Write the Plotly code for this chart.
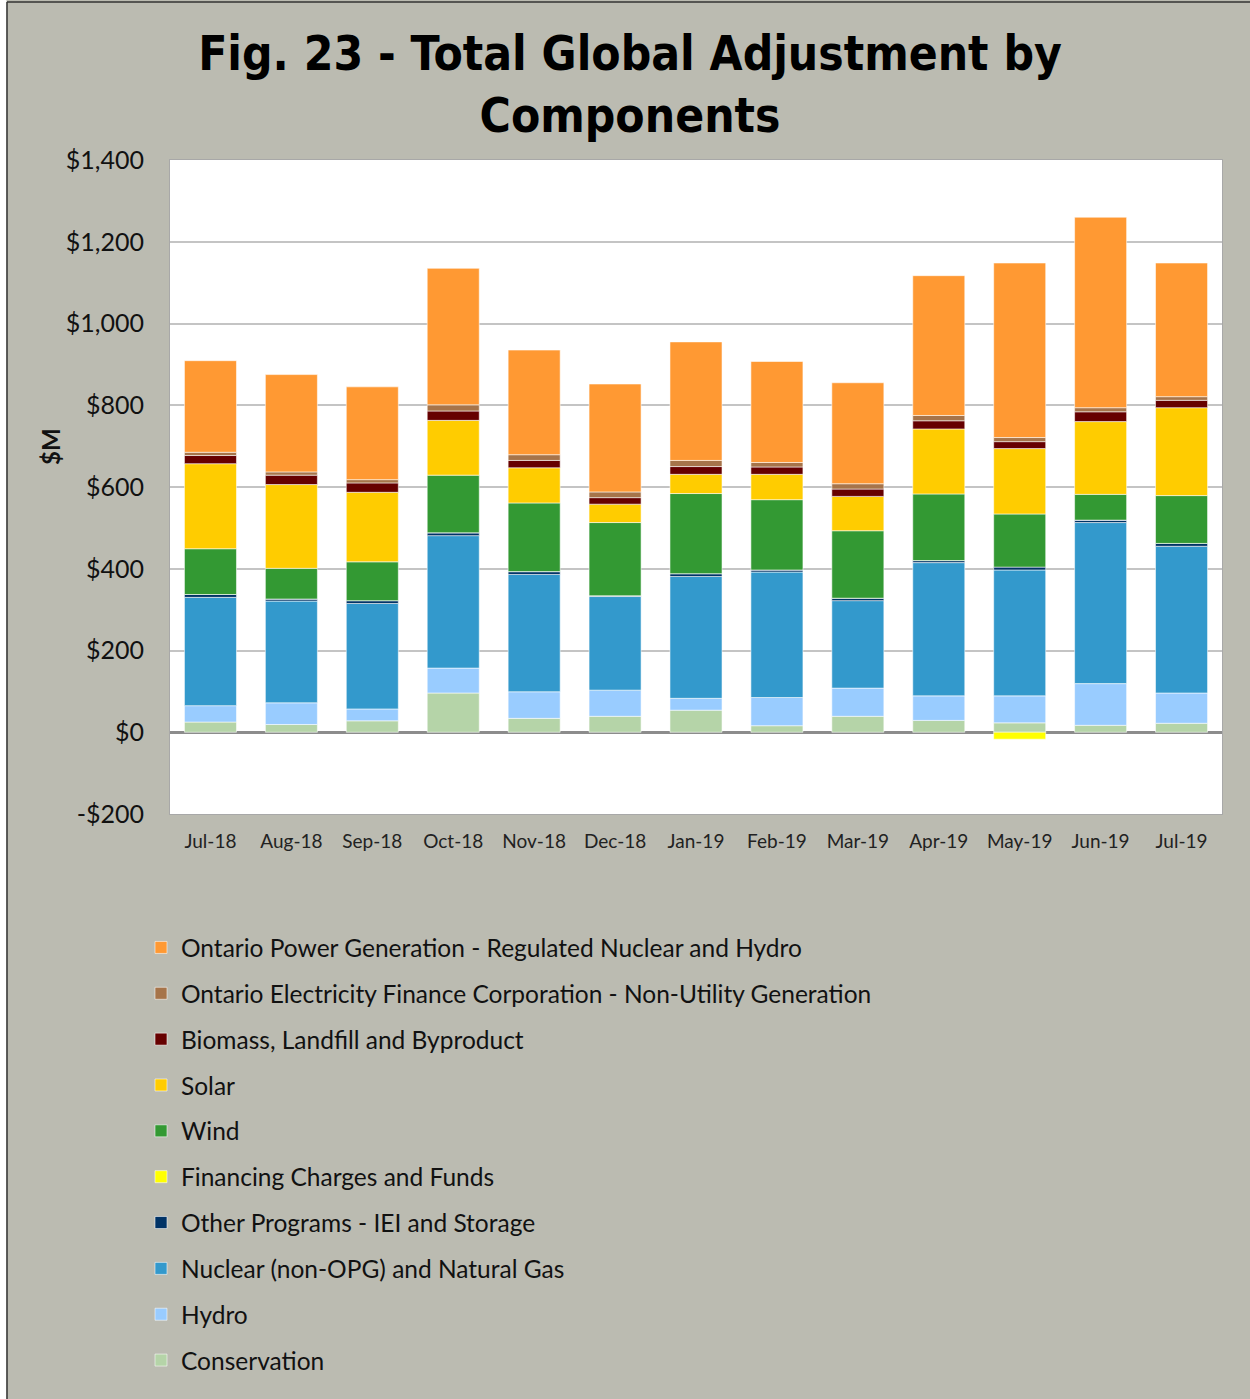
import plotly.graph_objects as go

months = ["Jul-18", "Aug-18", "Sep-18", "Oct-18", "Nov-18", "Dec-18", "Jan-19",
          "Feb-19", "Mar-19", "Apr-19", "May-19", "Jun-19", "Jul-19"]

conservation = [25, 19, 28, 96, 34, 39, 54, 16, 39, 29, 23, 17, 22]
hydro = [40, 53, 29, 61, 65, 64, 29, 69, 69, 60, 66, 102, 74]
nuclear_gas = [265, 249, 258, 324, 287, 229, 298, 307, 214, 326, 308, 394, 359]
other_programs = [7, 5, 7, 7, 7, 2, 7, 5, 6, 5, 7, 6, 7]
financing = [0, 0, 0, 0, 0, 0, 0, 0, 0, 0, -17, 0, 0]
wind = [112, 75, 95, 141, 168, 179, 196, 172, 165, 163, 130, 63, 117]
solar = [208, 205, 170, 134, 86, 45, 47, 62, 84, 159, 160, 178, 215]
biomass = [20, 23, 23, 23, 18, 16, 19, 18, 18, 20, 17, 24, 18]
oefc = [8, 8, 8, 15, 14, 14, 15, 11, 13, 13, 10, 10, 9]
opg = [224, 238, 227, 334, 256, 264, 290, 247, 247, 342, 427, 466, 327]

series = [
    ("Conservation", conservation, "#B5D4A8"),
    ("Hydro", hydro, "#99CCFF"),
    ("Nuclear (non-OPG) and Natural Gas", nuclear_gas, "#3399CC"),
    ("Other Programs - IEI and Storage", other_programs, "#003366"),
    ("Financing Charges and Funds", financing, "#FFFF00"),
    ("Wind", wind, "#339933"),
    ("Solar", solar, "#FFCC00"),
    ("Biomass, Landfill and Byproduct", biomass, "#660000"),
    ("Ontario Electricity Finance Corporation - Non-Utility Generation", oefc, "#A6744A"),
    ("Ontario Power Generation - Regulated Nuclear and Hydro", opg, "#FF9933"),
]

y_tickvals = [-200, 0, 200, 400, 600, 800, 1000, 1200, 1400]
y_ticktext = ["-$200", "$0", "$200", "$400", "$600", "$800", "$1,000", "$1,200", "$1,400"]

BG = "#BBBBB1"
W, H = 1250, 1399
L, R, T, B = 170, 28, 160, 585
PW, PH = W - L - R, H - T - B


def xp(px):
    return (px - L) / PW


def yp(py):
    return (H - B - py) / PH


fig = go.Figure()
n = len(series)
for i, (name, vals, color) in enumerate(series):
    fig.add_trace(go.Bar(
        x=months, y=vals, name=name,
        marker=dict(color=color, line=dict(color="rgba(255,255,255,0.55)", width=1)),
        legendgroup=f"g{i}",
        legendrank=n - i,
    ))

fig.update_layout(
    width=W, height=H,
    margin=dict(l=L, r=R, t=T, b=B, autoexpand=False),
    paper_bgcolor=BG,
    plot_bgcolor="white",
    barmode="relative",
    bargap=0.357,
    title=dict(
        text="Fig. 23 - Total Global Adjustment by<br>Components",
        x=0.504, xanchor="center", xref="container",
        y=0.950, yanchor="top", yref="container",
        font=dict(family="DejaVu Sans Condensed, DejaVu Sans", size=47.5, color="black", weight="bold"),
    ),
    font=dict(family="Lato, Open Sans, sans-serif", color="#111111"),
    showlegend=True,
    legend=dict(
        x=xp(141), xanchor="left",
        y=yp(925), yanchor="top",
        traceorder="grouped",
        tracegroupgap=11,
        font=dict(size=24.5, color="#111111"),
        bgcolor="rgba(0,0,0,0)",
    ),
    xaxis=dict(
        showgrid=False,
        showline=True, linecolor="#A8A8A8", linewidth=1, mirror=True,
        tickfont=dict(size=19, color="#222222"),
        ticklabelstandoff=10,
        fixedrange=True,
    ),
    yaxis=dict(
        range=[-200, 1400],
        tickvals=y_tickvals, ticktext=y_ticktext,
        showgrid=True, gridcolor="#C4C4C4", gridwidth=2,
        zeroline=True, zerolinecolor="#8C8C8C", zerolinewidth=3,
        showline=True, linecolor="#A8A8A8", linewidth=1, mirror=True,
        tickfont=dict(size=25, color="#111111"),
        ticklabelstandoff=20,
        fixedrange=True,
    ),
    annotations=[
        dict(text="<b>$M</b>", xref="paper", yref="paper", x=xp(50), y=yp(447),
             xanchor="center", yanchor="middle", textangle=-90, showarrow=False,
             font=dict(size=24, color="#111111")),
    ],
    shapes=[
        dict(type="rect", xref="paper", yref="paper", x0=xp(-2), x1=xp(6.5), y0=yp(H + 2), y1=yp(-2),
             fillcolor="white", line=dict(width=0), layer="above"),
        dict(type="line", xref="paper", yref="paper", x0=xp(7), x1=xp(7), y0=yp(H + 2), y1=yp(2),
             line=dict(color="#333333", width=1.5), layer="above"),
        dict(type="line", xref="paper", yref="paper", x0=xp(7), x1=xp(W + 2), y0=yp(2), y1=yp(2),
             line=dict(color="#333333", width=1.5), layer="above"),
    ],
)

fig.write_html("out.html")
